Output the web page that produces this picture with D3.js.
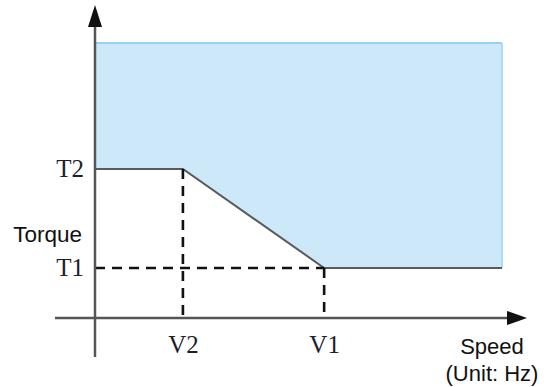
<!DOCTYPE html>
<html>
<head>
<meta charset="utf-8">
<script src="https://cdn.jsdelivr.net/npm/d3@7"></script>
<style>
  html, body { margin: 0; padding: 0; background: #fff; }
  svg { display: block; }
</style>
</head>
<body>
<svg id="chart" width="544" height="387"></svg>
<script>
// ---- data ----
const speedLabels = ["V2", "V1"];
const speedValues = [21.6, 56.3];
const torqueLabels = ["T1", "T2"];
const torqueValues = [18.2, 54.2];
const boundarySpeed = [0, 21.6, 56.3, 100];
const boundaryTorque = [54.2, 54.2, 18.2, 18.2];
const regionTop = 100;
const speedMax = 100;
const axisTitleX = ["Speed", "(Unit: Hz)"];
const axisTitleY = "Torque";

// ---- layout ----
const svg = d3.select("#chart");
const x = d3.scaleLinear().domain([0, speedMax]).range([95, 502]);
const y = d3.scaleLinear().domain([0, regionTop]).range([318, 43]);

const pts = boundarySpeed.map((s, i) => ({ s, t: boundaryTorque[i] }));

// region
svg.append("path")
  .datum(pts)
  .attr("fill", "#cde9f9")
  .attr("d", d3.area().x(d => x(d.s)).y0(d => y(d.t)).y1(y(regionTop)));

// region top edge
svg.append("line")
  .attr("x1", x(0)).attr("x2", x(speedMax))
  .attr("y1", y(regionTop)).attr("y2", y(regionTop))
  .attr("stroke", "#93d2f1").attr("stroke-width", 2);
// region right edge
svg.append("line")
  .attr("x1", x(speedMax)).attr("x2", x(speedMax))
  .attr("y1", y(regionTop)).attr("y2", y(boundaryTorque[boundaryTorque.length - 1]))
  .attr("stroke", "#aadcf5").attr("stroke-width", 2);

// boundary curve
svg.append("path")
  .datum(pts)
  .attr("fill", "none")
  .attr("stroke", "#5a5a5a")
  .attr("stroke-width", 2)
  .attr("d", d3.line().x(d => x(d.s)).y(d => y(d.t)));

// dashed guides
const dash = { stroke: "#111", w: 2.6, a: "10,7" };
const guides = [
  { x1: x(0), y1: y(torqueValues[0]), x2: x(speedValues[1]), y2: y(torqueValues[0]) },
  { x1: x(speedValues[0]), y1: y(torqueValues[1]), x2: x(speedValues[0]), y2: y(0) },
  { x1: x(speedValues[1]), y1: y(torqueValues[0]), x2: x(speedValues[1]), y2: y(0) }
];
svg.selectAll("line.guide").data(guides).join("line")
  .attr("class", "guide")
  .attr("x1", d => d.x1).attr("y1", d => d.y1)
  .attr("x2", d => d.x2).attr("y2", d => d.y2)
  .attr("stroke", dash.stroke).attr("stroke-width", dash.w)
  .attr("stroke-dasharray", dash.a);

// axes lines
const axisColor = "#555";
svg.append("line")
  .attr("x1", 55).attr("x2", 512)
  .attr("y1", y(0)).attr("y2", y(0))
  .attr("stroke", axisColor).attr("stroke-width", 2.5);
svg.append("line")
  .attr("x1", x(0)).attr("x2", x(0))
  .attr("y1", 357).attr("y2", 22)
  .attr("stroke", axisColor).attr("stroke-width", 2.5);

// arrowheads
svg.append("path")
  .attr("d", `M${x(0)},5 L${x(0) - 7},27 L${x(0) + 7},27 Z`)
  .attr("fill", "#111");
svg.append("path")
  .attr("d", `M527,${y(0)} L507,${y(0) - 7} L507,${y(0) + 7} Z`)
  .attr("fill", "#111");

// tick labels via d3 axes
const serif = "'Liberation Serif', 'DejaVu Serif', serif";
const xAxis = d3.axisBottom(x)
  .tickValues(speedValues)
  .tickFormat((d, i) => speedLabels[i])
  .tickSize(0).tickPadding(17);
const gx = svg.append("g").attr("transform", `translate(0,${y(0)})`).call(xAxis);
gx.select(".domain").remove();
gx.selectAll("text")
  .attr("font-family", serif).attr("font-size", 25)
  .attr("fill", "#1e1e2e");

const yAxis = d3.axisLeft(y)
  .tickValues(torqueValues)
  .tickFormat((d, i) => torqueLabels[i])
  .tickSize(0).tickPadding(11);
const gy = svg.append("g").attr("transform", `translate(${x(0)},0)`).call(yAxis);
gy.select(".domain").remove();
gy.selectAll("text")
  .attr("font-family", serif).attr("font-size", 25)
  .attr("fill", "#1e1e2e");

// axis titles
const sans = "'Liberation Sans', Arial, sans-serif";
svg.append("text")
  .attr("x", 82).attr("y", 242)
  .attr("text-anchor", "end")
  .attr("font-family", sans).attr("font-size", 22.5)
  .attr("fill", "#111")
  .text(axisTitleY);

svg.selectAll("text.xtitle").data(axisTitleX).join("text")
  .attr("class", "xtitle")
  .attr("x", 492)
  .attr("y", (d, i) => 354 + i * 27)
  .attr("text-anchor", "middle")
  .attr("font-family", sans).attr("font-size", 22)
  .attr("fill", "#111")
  .text(d => d);
</script>
</body>
</html>
